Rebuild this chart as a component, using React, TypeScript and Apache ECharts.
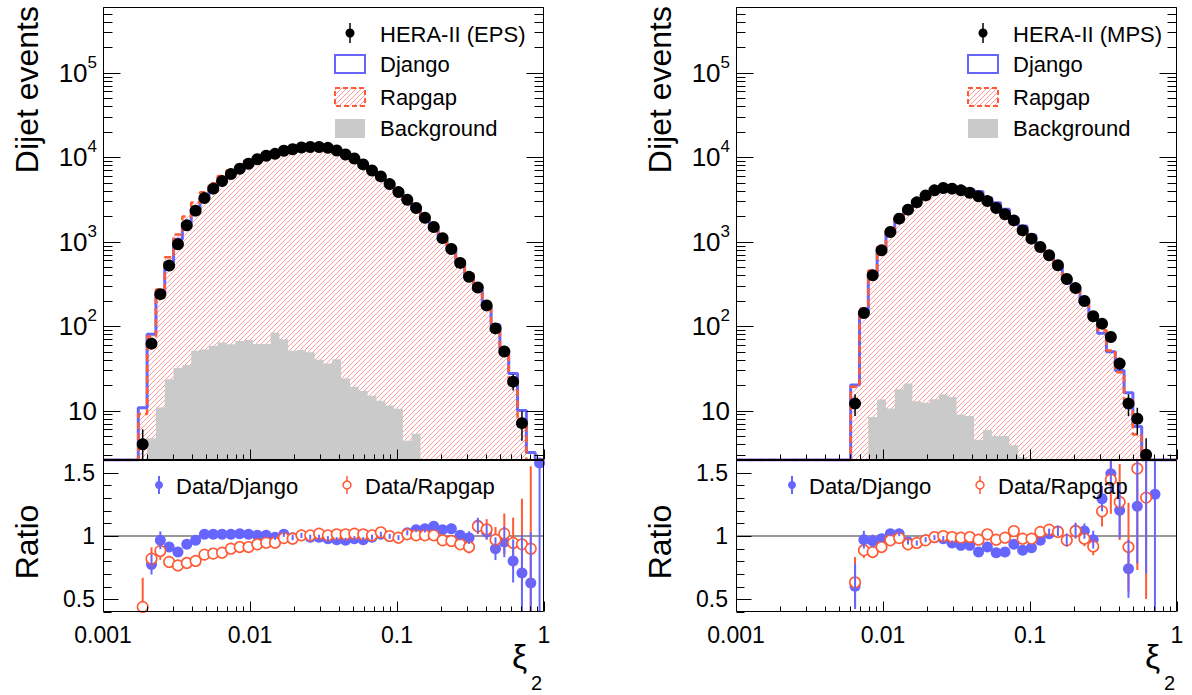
import React, { useEffect, useRef } from 'react';
import * as echarts from 'echarts';

const W = 1192, H = 695;
const FONT = '"Liberation Sans", Arial, Helvetica, sans-serif';
const BLUE = '#6666ff';
const ORANGE = '#ff5a33';
const HATCH_COLOR = '#ff9a9a';
const GREY = '#cacaca';

// ---- axes ----
const X_MIN = 0.001, X_MAX = 1;
const Y_MIN = 2.6, Y_MAX = 6e5;
const R_MIN = 0.4, R_MAX = 1.6;
const RATIO_REF = 1;
const xTickLabels = ['0.001', '0.01', '0.1', '1'];
const yTickPowers = [1, 2, 3, 4, 5];
const ratioTickLabels = ['0.5', '1', '1.5'];

// ---- binning (equal width in log10 xi_2) ----
const BIN_LOG_START = -2.76;
const BIN_LOG_WIDTH = 0.06;
const N_BINS = 46;

// ---- EPS (left) ----
const epsData = [4, 62, 239, 521, 931, 1560, 2330, 3280, 4240, 5210,
  6310, 7300, 8360, 9470, 10400, 10960, 11900, 12400, 13000, 13200,
  13200, 12900, 12000, 10760, 9660, 8210, 6970, 5920, 4800, 3860,
  3140, 2500, 1920, 1490, 1100, 819, 560, 383, 287, 176,
  94, 50, 22, 7.1, 2, 2];
const epsDataErr = [2, 8, 15, 23, 31, 40, 48, 57, 65, 72,
  79, 85, 91, 97, 102, 105, 109, 111, 114, 115,
  115, 114, 110, 104, 98, 91, 83, 77, 69, 62,
  56, 50, 44, 39, 33, 29, 24, 20, 17, 13,
  10, 7, 4.7, 2.7, 1.4, 1.4];
const epsDjango = [10.8, 80, 247, 571, 1065, 1670, 2412, 3238, 4186, 5143,
  6229, 7171, 8253, 9423, 10348, 11071, 11747, 12563, 12935, 13333,
  13333, 13177, 12358, 11139, 9867, 8455, 7040, 5844, 4814, 3911,
  3060, 2381, 1815, 1385, 1048, 774, 557, 388, 265, 171,
  104, 52.5, 27.4, 10.0, 3.2, 1.27];
const epsRapgap = [9.1, 75.5, 271, 655, 1212, 1982, 2902, 3845, 4925, 6002,
  7011, 7996, 9157, 10139, 10982, 11573, 12093, 12666, 12935, 13134,
  12967, 12836, 11846, 10622, 9489, 8105, 6935, 5753, 4800, 3911,
  3100, 2488, 1910, 1483, 1139, 852, 600, 419, 267, 167,
  97, 49, 23.3, 7.6, 2.2, 0];
const epsBackground = [0, 4.7, 10.9, 23.5, 32, 34.6, 51, 53, 58.6, 64,
  61, 66.5, 68.4, 61.4, 61.4, 84, 70, 51, 52, 49,
  40, 36, 40.5, 24, 19.2, 17.1, 15, 13.1, 11.5, 10.5,
  4.4, 5.3, 0, 0, 0, 0, 0, 0, 0, 0,
  0, 0, 0, 0, 0, 0];
const epsRatioDjango = [0.37, 0.776, 0.966, 0.913, 0.874, 0.934, 0.966, 1.013, 1.013, 1.013,
  1.013, 1.018, 1.013, 1.005, 1.005, 0.99, 1.013, 0.987, 1.005, 0.99,
  0.99, 0.979, 0.971, 0.966, 0.979, 0.971, 0.99, 1.013, 0.997, 0.987,
  1.026, 1.05, 1.058, 1.076, 1.05, 1.058, 1.005, 0.987, 1.084, 1.032,
  0.9, 0.953, 0.803, 0.708, 0.629, 1.576];
const epsRatioDjangoErr = [0.3, 0.08, 0.07, 0.03, 0.03, 0.02, 0.02, 0.02, 0.02, 0.02,
  0.02, 0.02, 0.02, 0.02, 0.02, 0.02, 0.02, 0.02, 0.02, 0.02,
  0.02, 0.02, 0.02, 0.02, 0.02, 0.02, 0.02, 0.02, 0.02, 0.02,
  0.02, 0.02, 0.03, 0.03, 0.03, 0.04, 0.04, 0.05, 0.06, 0.06,
  0.09, 0.12, 0.17, 0.3, 0.4, 1.5];
const epsRatioRapgap = [0.44, 0.821, 0.882, 0.795, 0.768, 0.787, 0.803, 0.853, 0.861, 0.868,
  0.9, 0.913, 0.913, 0.934, 0.947, 0.947, 0.984, 0.979, 1.005, 1.005,
  1.018, 1.005, 1.013, 1.013, 1.018, 1.013, 1.005, 1.029, 1.0, 0.987,
  1.013, 1.005, 1.005, 1.005, 0.966, 0.961, 0.934, 0.913, 1.076, 1.053,
  0.971, 1.018, 0.945, 0.934, 0.9, null];
const epsRatioRapgapErr = [0.23, 0.09, 0.07, 0.03, 0.03, 0.02, 0.02, 0.02, 0.02, 0.02,
  0.02, 0.02, 0.02, 0.02, 0.02, 0.02, 0.02, 0.02, 0.02, 0.02,
  0.02, 0.02, 0.02, 0.02, 0.02, 0.02, 0.02, 0.02, 0.02, 0.02,
  0.02, 0.02, 0.03, 0.03, 0.03, 0.04, 0.04, 0.05, 0.06, 0.08,
  0.1, 0.16, 0.2, 0.36, 0.65, 0];

// ---- MPS (right) ----  data / ratios start at bin MPS_FIRST
const MPS_FIRST = 9;
const mpsData = [12.1, 143, 399, 789, 1300, 1872, 2393, 2920, 3530, 4050,
  4310, 4240, 4050, 3800, 3440, 3020, 2500, 2110, 1786, 1360,
  1085, 863, 689, 525, 361, 282, 198, 131, 107, 74.3,
  36, 12.1, 8.0, 3.0, 2];
const mpsDataErr = [3.5, 12, 20, 28, 36, 43, 49, 54, 59, 64,
  66, 65, 64, 62, 59, 55, 50, 46, 42, 37,
  33, 29, 26, 23, 19, 17, 14, 11, 10, 8.6,
  6, 3.5, 2.8, 1.7, 1.4];
const mpsDjango = [0, 0, 0, 0, 0, 0, 0, 0, 0, 20.1,
  147, 415, 806, 1277, 1839, 2511, 3090, 3635, 4103, 4402,
  4487, 4374, 4104, 3936, 3308, 2880, 2414, 1912, 1533, 1195,
  893, 677, 505, 372, 270, 191, 135, 82.6, 49.8, 29.9,
  16.3, 6.5, 2.3, 1.5, 0, 0];
const mpsRapgap = [0, 0, 0, 0, 0, 0, 0, 0, 0, 19.1,
  161, 457, 864, 1346, 1902, 2562, 3090, 3654, 4083, 4310,
  4274, 4103, 3831, 3543, 2981, 2575, 2138, 1719, 1389, 1108,
  836, 656, 509, 374, 271, 202, 143, 89.5, 51.4, 28.4,
  13.3, 5.2, 2.3, 0, 0, 0];
const mpsBackground = [0, 0, 0, 0, 0, 0, 0, 0, 0, 0,
  0, 8.4, 13.5, 10.6, 17.9, 20.9, 12.9, 12.4, 13.6, 15.6,
  14.5, 9.0, 8.6, 4.5, 5.9, 5.0, 5.0, 3.9, 2.8, 0,
  0, 0, 0, 0, 0, 0, 0, 0, 0, 0,
  0, 0, 0, 0, 0, 0];
const mpsRatioDjango = [0.603, 0.971, 0.961, 0.979, 1.018, 1.018, 0.953, 0.945, 0.971, 0.987,
  0.979, 0.945, 0.926, 0.926, 0.874, 0.913, 0.868, 0.874, 0.934, 0.887,
  0.908, 0.966, 1.018, 1.039, 0.971, 1.045, 1.039, 0.971, 1.295, 1.492,
  1.203, 0.742, 1.234, 1.303, 1.329];
const mpsRatioDjangoErr = [0.18, 0.07, 0.05, 0.03, 0.02, 0.02, 0.02, 0.02, 0.02, 0.02,
  0.02, 0.02, 0.02, 0.02, 0.02, 0.02, 0.02, 0.02, 0.02, 0.03,
  0.03, 0.03, 0.04, 0.04, 0.05, 0.06, 0.06, 0.07, 0.1, 0.15,
  0.22, 0.23, 0.45, 0.6, 1.5];
const mpsRatioRapgap = [0.634, 0.887, 0.874, 0.913, 0.966, 0.984, 0.934, 0.945, 0.966, 0.992,
  1.0, 0.992, 0.987, 0.992, 0.971, 1.013, 0.971, 0.987, 1.039, 0.979,
  0.979, 1.032, 1.05, 1.032, 0.966, 1.039, 0.979, 0.918, 1.195, 1.445,
  1.268, 0.913, 1.532, 1.303];
const mpsRatioRapgapErr = [0.2, 0.06, 0.05, 0.03, 0.02, 0.02, 0.02, 0.02, 0.02, 0.02,
  0.02, 0.02, 0.02, 0.02, 0.02, 0.02, 0.02, 0.02, 0.02, 0.03,
  0.03, 0.03, 0.04, 0.04, 0.05, 0.06, 0.06, 0.07, 0.12, 0.27,
  0.3, 0.35, 0.8, 0.8];

// ---- layout ----
const TOP = 7, TOP_H = 453, RAT_H = 152, PW = 441;

const panels = [
  {
    title: 'HERA-II (EPS)', left: 103, first: 0,
    data: epsData, dataErr: epsDataErr, django: epsDjango, rapgap: epsRapgap, bkg: epsBackground,
    rD: epsRatioDjango, rDErr: epsRatioDjangoErr, rR: epsRatioRapgap, rRErr: epsRatioRapgapErr,
  },
  {
    title: 'HERA-II (MPS)', left: 736, first: MPS_FIRST,
    data: mpsData, dataErr: mpsDataErr, django: mpsDjango, rapgap: mpsRapgap, bkg: mpsBackground,
    rD: mpsRatioDjango, rDErr: mpsRatioDjangoErr, rR: mpsRatioRapgap, rRErr: mpsRatioRapgapErr,
  },
];

const binEdges = Array.from({ length: N_BINS + 1 }, (_, k) => Math.pow(10, BIN_LOG_START + BIN_LOG_WIDTH * k));
const binCenters = Array.from({ length: N_BINS }, (_, k) => Math.pow(10, BIN_LOG_START + BIN_LOG_WIDTH * (k + 0.5)));

const hatchSvg = `<svg xmlns="http://www.w3.org/2000/svg" width="5" height="5"><path d="M-1,6 L6,-1 M-1,1 L1,-1 M4,6 L6,4" stroke="${HATCH_COLOR}" stroke-width="1"/></svg>`;
const hatchPattern: any = {
  image: 'data:image/svg+xml;charset=utf-8,' + encodeURIComponent(hatchSvg),
  repeat: 'repeat', imageWidth: 5, imageHeight: 5,
};

function stepData(h: number[]) {
  const pts: number[][] = [[X_MIN, Y_MIN]];
  for (let k = 0; k < h.length; k++) pts.push([binEdges[k], Math.max(h[k], Y_MIN)]);
  pts.push([binEdges[N_BINS], Math.max(h[N_BINS - 1], Y_MIN)]);
  pts.push([binEdges[N_BINS], Y_MIN]);
  pts.push([X_MAX, Y_MIN]);
  return pts;
}

function points(vals: (number | null)[], first: number) {
  const out: number[][] = [];
  vals.forEach((v, i) => { if (v != null) out.push([binCenters[first + i], v]); });
  return out;
}

function bars(vals: (number | null)[], errs: number[], first: number, lo: number, hi: number, floor: number) {
  const out: number[][] = [];
  vals.forEach((v, i) => {
    if (v == null || v < lo || v > hi) return;
    const e = errs[i] || 0;
    out.push([binCenters[first + i], Math.max(v - e, floor), v + e]);
  });
  return out;
}

function logTicks(lo: number, hi: number) {
  const out: number[][] = [];
  for (let d = -4; d <= 6; d++) {
    for (let m = 1; m <= 9; m++) {
      const v = m * Math.pow(10, d);
      if (v >= lo * (1 - 1e-9) && v <= hi * (1 + 1e-9)) out.push([v, m === 1 ? 1 : 0]);
    }
  }
  return out;
}

const topTickData = [
  ...logTicks(X_MIN, X_MAX).map(([v, m]) => [v, Y_MIN, 0, m]),
  ...logTicks(Y_MIN, Y_MAX).map(([v, m]) => [X_MIN, v, 1, m]),
  [X_MIN, Y_MIN, 2, 0],
];
const ratioYTicks: number[][] = [];
for (let k = 4; k <= 16; k++) ratioYTicks.push([X_MIN, k / 10, 1, k % 5 === 0 ? 1 : 0]);
const ratioTickData = [
  ...logTicks(X_MIN, X_MAX).map(([v, m]) => [v, R_MIN, 0, m]),
  ...ratioYTicks,
  [X_MIN, R_MIN, 2, 0],
];

function tickRender(yMajor: number, yMinor: number, rightSide: boolean) {
  return (params: any, api: any) => {
    const cs = params.coordSys;
    const kind = api.value(2);
    const major = api.value(3) === 1;
    const st = { stroke: '#000', lineWidth: 1 };
    const x0 = Math.round(cs.x) + 0.5, y0 = Math.round(cs.y) + 0.5;
    const x1 = Math.round(cs.x + cs.width) - 0.5, y1 = Math.round(cs.y + cs.height) - 0.5;
    if (kind === 2) {
      return { type: 'rect', shape: { x: x0, y: y0, width: x1 - x0, height: y1 - y0 }, style: { fill: 'none', stroke: '#000', lineWidth: 1 } };
    }
    const p = api.coord([api.value(0), api.value(1)]);
    if (kind === 0) {
      const x = Math.round(p[0]) + 0.5;
      const len = major ? 10 : 5;
      return { type: 'line', shape: { x1: x, y1: y1, x2: x, y2: y1 - len }, style: st };
    }
    const y = Math.round(p[1]) + 0.5;
    const len = major ? yMajor : yMinor;
    const children: any[] = [{ type: 'line', shape: { x1: x0, y1: y, x2: x0 + len, y2: y }, style: st }];
    if (rightSide) children.push({ type: 'line', shape: { x1: x1, y1: y, x2: x1 - len, y2: y }, style: st });
    return { type: 'group', children };
  };
}

function errRender(color: string, width: number) {
  return (params: any, api: any) => {
    const cs = params.coordSys;
    const x = api.value(0);
    const a = api.coord([x, api.value(1)]);
    const b = api.coord([x, api.value(2)]);
    const clampY = (y: number) => Math.min(Math.max(y, cs.y), cs.y + cs.height);
    return {
      type: 'line',
      shape: { x1: a[0], y1: clampY(a[1]), x2: a[0], y2: clampY(b[1]) },
      style: { stroke: color, lineWidth: width },
    };
  };
}

function near(a: number, b: number) { return Math.abs(a - b) < 1e-6; }

function xLabel(v: number) {
  const l = Math.log10(v);
  const n = Math.round(l);
  if (!near(l, n)) return '';
  return xTickLabels[n + 3] ?? '';
}
function yLabel(v: number) {
  const l = Math.log10(v);
  const n = Math.round(l);
  if (Math.abs(l - n) > 1e-4 || yTickPowers.indexOf(n) < 0) return '';
  return n === 1 ? '{b|10}' : `{b|10}{s|${n}}`;
}
function rLabel(v: number) {
  const s = ratioTickLabels.find((t) => near(parseFloat(t), v));
  return s ?? '';
}

function buildOption() {
  const grids: any[] = [], xAxes: any[] = [], yAxes: any[] = [], series: any[] = [], graphics: any[] = [];
  const hidden = { axisLine: { show: false }, axisTick: { show: false }, splitLine: { show: false }, minorTick: { show: false } };

  panels.forEach((p, i) => {
    const gT = 2 * i, gR = 2 * i + 1;
    grids.push({ left: p.left, top: TOP, width: PW, height: TOP_H, containLabel: false, outerBoundsMode: 'none' });
    grids.push({ left: p.left, top: TOP + TOP_H, width: PW, height: RAT_H, containLabel: false, outerBoundsMode: 'none' });

    xAxes.push({ type: 'log', logBase: 10, gridIndex: gT, min: X_MIN, max: X_MAX, ...hidden, axisLabel: { show: false } });
    xAxes.push({
      type: 'log', logBase: 10, gridIndex: gR, min: X_MIN, max: X_MAX, ...hidden,
      axisLabel: { show: true, color: '#000', fontFamily: FONT, fontSize: 23, margin: 11, formatter: xLabel, showMinLabel: true, showMaxLabel: true },
    });
    yAxes.push({
      type: 'log', logBase: 10, gridIndex: gT, min: Y_MIN, max: Y_MAX, ...hidden,
      axisLabel: {
        show: true, color: '#000', margin: 6, formatter: yLabel, showMinLabel: false, showMaxLabel: false,
        rich: {
          b: { fontFamily: FONT, fontSize: 26, lineHeight: 38, color: '#000' },
          s: { fontFamily: FONT, fontSize: 17, lineHeight: 19, verticalAlign: 'top', color: '#000' },
        },
      },
    });
    yAxes.push({
      type: 'value', gridIndex: gR, min: R_MIN, max: R_MAX, interval: 0.1, ...hidden,
      axisLabel: { show: true, color: '#000', fontFamily: FONT, fontSize: 23, margin: 8, formatter: rLabel },
    });

    const common = { xAxisIndex: gT, yAxisIndex: gT, silent: true, animation: false };
    series.push({ ...common, type: 'line', step: 'end', symbol: 'none', data: stepData(p.rapgap), z: 1,
      lineStyle: { width: 0, opacity: 0 }, areaStyle: { color: hatchPattern, opacity: 1, origin: 'start' } });
    series.push({ ...common, type: 'line', step: 'end', symbol: 'none', data: stepData(p.bkg), z: 2,
      lineStyle: { width: 0, opacity: 0 }, areaStyle: { color: GREY, opacity: 1, origin: 'start' } });
    series.push({ ...common, type: 'line', step: 'end', symbol: 'none', data: stepData(p.django), z: 3,
      lineStyle: { color: BLUE, width: 3 } });
    series.push({ ...common, type: 'line', step: 'end', symbol: 'none', data: stepData(p.rapgap), z: 4,
      lineStyle: { color: ORANGE, width: 2.5, type: [7, 4] } });
    series.push({ ...common, type: 'custom', z: 5, renderItem: errRender('#000', 1.5),
      data: bars(p.data, p.dataErr, p.first, Y_MIN, Y_MAX, Y_MIN * 0.5) });
    series.push({ ...common, type: 'scatter', z: 6, symbol: 'circle', symbolSize: 12, clip: true,
      itemStyle: { color: '#000', opacity: 1 }, data: points(p.data, p.first) });
    series.push({ ...common, type: 'custom', z: 10, renderItem: tickRender(17, 9, true), data: topTickData });

    const rc = { xAxisIndex: gR, yAxisIndex: gR, silent: true, animation: false };
    series.push({ ...rc, type: 'line', symbol: 'none', z: 1, data: [[X_MIN, RATIO_REF], [X_MAX, RATIO_REF]],
      lineStyle: { color: '#333', width: 1 } });
    series.push({ ...rc, type: 'scatter', z: 2, symbol: 'circle', symbolSize: 11, clip: true,
      itemStyle: { color: BLUE, opacity: 1 }, data: points(p.rD, p.first) });
    series.push({ ...rc, type: 'custom', z: 3, renderItem: errRender(ORANGE, 2),
      data: bars(p.rR, p.rRErr, p.first, R_MIN, R_MAX, R_MIN - 1) });
    series.push({ ...rc, type: 'scatter', z: 4, symbol: 'circle', symbolSize: 10.5, clip: true,
      itemStyle: { color: '#fff', borderColor: ORANGE, borderWidth: 1.6, opacity: 1 }, data: points(p.rR, p.first) });
    series.push({ ...rc, type: 'custom', z: 5, renderItem: errRender(BLUE, 2),
      data: bars(p.rD, p.rDErr, p.first, R_MIN, R_MAX, R_MIN - 1) });
    series.push({ ...rc, type: 'custom', z: 10, renderItem: tickRender(15, 8, false), data: ratioTickData });

    // ---- legends & titles ----
    const ox = p.left;
    const txt = (text: string, x: number, y: number, size = 22, extra: any = {}) => ({
      type: 'text', x, y, z: 100, silent: true,
      style: { text, fill: '#000', fontSize: size, fontFamily: FONT, align: 'left', verticalAlign: 'middle', textAlign: 'left', textVerticalAlign: 'middle', ...extra },
    });
    graphics.push(
      { type: 'line', z: 100, shape: { x1: ox + 247, y1: 23, x2: ox + 247, y2: 43 }, style: { stroke: '#000', lineWidth: 1.5 } },
      { type: 'circle', z: 100, shape: { cx: ox + 247, cy: 33, r: 4.5 }, style: { fill: '#000' } },
      txt(p.title, ox + 277, 34),
      { type: 'rect', z: 100, shape: { x: ox + 232, y: 55, width: 30, height: 18 }, style: { fill: '#fff', stroke: BLUE, lineWidth: 2 } },
      txt('Django', ox + 277, 64),
      { type: 'rect', z: 100, shape: { x: ox + 232, y: 88, width: 30, height: 18 }, style: { fill: hatchPattern, stroke: ORANGE, lineWidth: 2, lineDash: [5, 3] } },
      txt('Rapgap', ox + 277, 97),
      { type: 'rect', z: 100, shape: { x: ox + 232, y: 119, width: 30, height: 19 }, style: { fill: GREY } },
      txt('Background', ox + 277, 128),

      { type: 'line', z: 100, shape: { x1: ox + 56, y1: 476, x2: ox + 56, y2: 494 }, style: { stroke: BLUE, lineWidth: 2 } },
      { type: 'circle', z: 100, shape: { cx: ox + 56, cy: 485, r: 4 }, style: { fill: BLUE } },
      txt('Data/Django', ox + 73, 486),
      { type: 'line', z: 100, shape: { x1: ox + 244, y1: 476, x2: ox + 244, y2: 494 }, style: { stroke: ORANGE, lineWidth: 1.5 } },
      { type: 'circle', z: 100, shape: { cx: ox + 244, cy: 485, r: 4 }, style: { fill: '#fff', stroke: ORANGE, lineWidth: 1.5 } },
      txt('Data/Rapgap', ox + 262, 486),

      { ...txt('Dijet events', ox - 76, 6, 32, { align: 'right', textAlign: 'right' }), rotation: Math.PI / 2 },
      { ...txt('Ratio', ox - 76, 542, 32, { align: 'center', textAlign: 'center' }), rotation: Math.PI / 2 },
      txt('ξ', ox + 409, 656, 34),
      txt('2', ox + 428, 683, 20),
    );
  });

  return {
    animation: false,
    backgroundColor: '#fff',
    grid: grids,
    xAxis: xAxes,
    yAxis: yAxes,
    series,
    graphic: { elements: graphics },
  };
}

export default function App() {
  const ref = useRef<HTMLDivElement>(null);
  useEffect(() => {
    if (!ref.current) return;
    const chart = echarts.init(ref.current, undefined, { renderer: 'svg', width: W, height: H });
    chart.setOption(buildOption() as any);
    return () => chart.dispose();
  }, []);
  return <div ref={ref} style={{ position: 'absolute', left: 0, top: 0, width: W, height: H }} />;
}
